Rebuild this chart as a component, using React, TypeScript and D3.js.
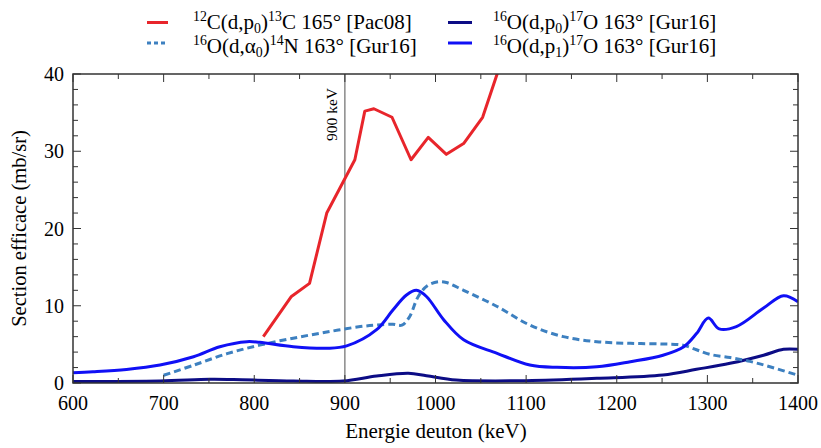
import React from "react";
import * as d3 from "d3";

const redX = [810, 841, 861, 880, 911, 922, 932, 952, 973, 992, 1012, 1031, 1052, 1068, 1075];
const redY = [6.0, 11.2, 12.9, 22.0, 28.9, 35.2, 35.5, 34.4, 28.9, 31.8, 29.6, 31.0, 34.4, 40.0, 42.5];

const alphaX = [700, 733, 770, 806, 843, 880, 917, 935, 953, 963, 971, 981, 991, 1003, 1012, 1031, 1068, 1104, 1141, 1178, 1215, 1251, 1273, 1288, 1303, 1325, 1347, 1369, 1400];
const alphaY = [1.0, 2.3, 3.8, 4.9, 5.8, 6.6, 7.3, 7.5, 7.6, 7.5, 8.5, 11.2, 12.6, 13.1, 13.0, 12.0, 9.9, 7.5, 6.0, 5.35, 5.13, 5.05, 4.9, 4.3, 3.7, 3.3, 2.8, 2.1, 1.0];

const p1X = [600, 622, 659, 696, 733, 762, 792, 806, 843, 880, 902, 935, 953, 968, 979, 990, 1009, 1031, 1068, 1104, 1134, 1178, 1215, 1251, 1274, 1288, 1301, 1313, 1332, 1362, 1384, 1400];
const p1Y = [1.34, 1.46, 1.76, 2.33, 3.4, 4.7, 5.35, 5.26, 4.7, 4.5, 4.8, 6.9, 9.45, 11.4, 12.0, 11.2, 8.2, 5.6, 3.84, 2.33, 2.03, 2.1, 2.76, 3.6, 4.7, 6.4, 8.4, 7.0, 7.3, 9.7, 11.3, 10.5];

const p0X = [600, 696, 751, 777, 843, 898, 935, 970, 990, 1023, 1100, 1178, 1251, 1288, 1325, 1362, 1384, 1400];
const p0Y = [0.2, 0.26, 0.48, 0.45, 0.26, 0.26, 0.9, 1.25, 0.95, 0.39, 0.3, 0.6, 1.04, 1.77, 2.55, 3.6, 4.36, 4.36];

const xTicks = [600, 700, 800, 900, 1000, 1100, 1200, 1300, 1400];
const yTicks = [0, 10, 20, 30, 40];

const legend1: [string, string][] = [["12", "sup"], ["C(d,p", "n"], ["0", "sub"], [")", "n"], ["13", "sup"], ["C 165° [Pac08]", "n"]];
const legend2: [string, string][] = [["16", "sup"], ["O(d,α", "n"], ["0", "sub"], [")", "n"], ["14", "sup"], ["N 163° [Gur16]", "n"]];
const legend3: [string, string][] = [["16", "sup"], ["O(d,p", "n"], ["0", "sub"], [")", "n"], ["17", "sup"], ["O 163° [Gur16]", "n"]];
const legend4: [string, string][] = [["16", "sup"], ["O(d,p", "n"], ["1", "sub"], [")", "n"], ["17", "sup"], ["O 163° [Gur16]", "n"]];

const W = 821, H = 448;
const M = { left: 73, right: 798, top: 74, bottom: 383 };
const FONT = "'Liberation Serif', 'Times New Roman', Times, 'DejaVu Serif', serif";

function RichText({ parts, x, y, size }: { parts: [string, string][]; x: number; y: number; size: number }) {
  let cur = 0;
  const spans = parts.map((p, i) => {
    const target = p[1] === "sup" ? -size * 0.36 : p[1] === "sub" ? size * 0.2 : 0;
    const dy = target - cur;
    cur = target;
    return (
      <tspan key={i} dy={dy} fontSize={p[1] === "n" ? size : size * 0.66}>
        {p[0]}
      </tspan>
    );
  });
  return (
    <text x={x} y={y} style={{ fontFamily: FONT }} fontSize={size} fill="#000">
      {spans}
    </text>
  );
}

export default function App() {
  const x = d3.scaleLinear().domain([600, 1400]).range([M.left, M.right]);
  const y = d3.scaleLinear().domain([0, 40]).range([M.bottom, M.top]);

  const mk = (xs: number[], ys: number[], curve: any) =>
    d3.line<number>().x((_, i) => x(xs[i])).y((_, i) => y(ys[i])).curve(curve)(xs.map((_, i) => i)) || "";

  const smooth = d3.curveCatmullRom.alpha(0.5);
  const redPath = mk(redX, redY, d3.curveLinear);
  const alphaPath = mk(alphaX, alphaY, smooth);
  const p1Path = mk(p1X, p1Y, smooth);
  const p0Path = mk(p0X, p0Y, smooth);

  const xMinor = d3.range(600, 1401, 50);
  const yMinor = d3.range(0, 41, 2);

  return (
    <svg width={W} height={H} style={{ position: "absolute", left: 0, top: 0, background: "#fff", fontFamily: FONT }}>
      <defs>
        <clipPath id="plot">
          <rect x={M.left} y={M.top} width={M.right - M.left} height={M.bottom - M.top} />
        </clipPath>
      </defs>
      <rect width={W} height={H} fill="#fff" />

      <line x1={x(900)} x2={x(900)} y1={M.top} y2={M.bottom} stroke="#777" strokeWidth={1.3} />
      <text transform={`translate(${x(900) - 7.5},${M.top + 14}) rotate(-90)`} textAnchor="end" style={{ fontFamily: FONT }} fontSize={15.5} fill="#000">
        900 keV
      </text>

      <g clipPath="url(#plot)" fill="none" strokeLinejoin="round">
        <path d={p0Path} stroke="#0c0c85" strokeWidth={3} />
        <path d={alphaPath} stroke="#3d80c0" strokeWidth={3} strokeDasharray="7,4" />
        <path d={p1Path} stroke="#1010f5" strokeWidth={3} />
        <path d={redPath} stroke="#e8252b" strokeWidth={3} />
      </g>

      <g stroke="#333" strokeWidth={1}>
        {xMinor.map((v) => {
          const len = v % 100 === 0 ? 8 : 5;
          return (
            <g key={"x" + v}>
              <line x1={x(v)} x2={x(v)} y1={M.bottom} y2={M.bottom - len} />
              <line x1={x(v)} x2={x(v)} y1={M.top} y2={M.top + len} />
            </g>
          );
        })}
        {yMinor.map((v) => {
          const len = v % 10 === 0 ? 8 : 5;
          return (
            <g key={"y" + v}>
              <line x1={M.left} x2={M.left + len} y1={y(v)} y2={y(v)} />
              <line x1={M.right} x2={M.right - len} y1={y(v)} y2={y(v)} />
            </g>
          );
        })}
      </g>
      <rect x={M.left} y={M.top} width={M.right - M.left} height={M.bottom - M.top} fill="none" stroke="#333" strokeWidth={1.5} />

      {xTicks.map((v) => (
        <text key={"xt" + v} x={x(v)} y={410} textAnchor="middle" style={{ fontFamily: FONT }} fontSize={20} fill="#000">
          {v}
        </text>
      ))}
      {yTicks.map((v) => (
        <text key={"yt" + v} x={M.left - 9} y={y(v) + 7} textAnchor="end" style={{ fontFamily: FONT }} fontSize={20} fill="#000">
          {v}
        </text>
      ))}

      <text x={436} y={438} textAnchor="middle" style={{ fontFamily: FONT }} fontSize={21} fill="#000">
        Energie deuton (keV)
      </text>
      <text transform={`translate(26,${(M.top + M.bottom) / 2}) rotate(-90)`} textAnchor="middle" style={{ fontFamily: FONT }} fontSize={20.5} fill="#000">
        Section efficace (mb/sr)
      </text>

      <line x1={147} x2={168} y1={22.5} y2={22.5} stroke="#e8252b" strokeWidth={3} />
      <RichText parts={legend1} x={193} y={29} size={21} />
      <line x1={147} x2={168} y1={43} y2={43} stroke="#3d80c0" strokeWidth={3} strokeDasharray="4,3" />
      <RichText parts={legend2} x={193} y={53} size={21} />
      <line x1={448} x2={472} y1={22.5} y2={22.5} stroke="#0c0c85" strokeWidth={3} />
      <RichText parts={legend3} x={493} y={29} size={21} />
      <line x1={448} x2={472} y1={43} y2={43} stroke="#1010f5" strokeWidth={3} />
      <RichText parts={legend4} x={493} y={53} size={21} />
    </svg>
  );
}
